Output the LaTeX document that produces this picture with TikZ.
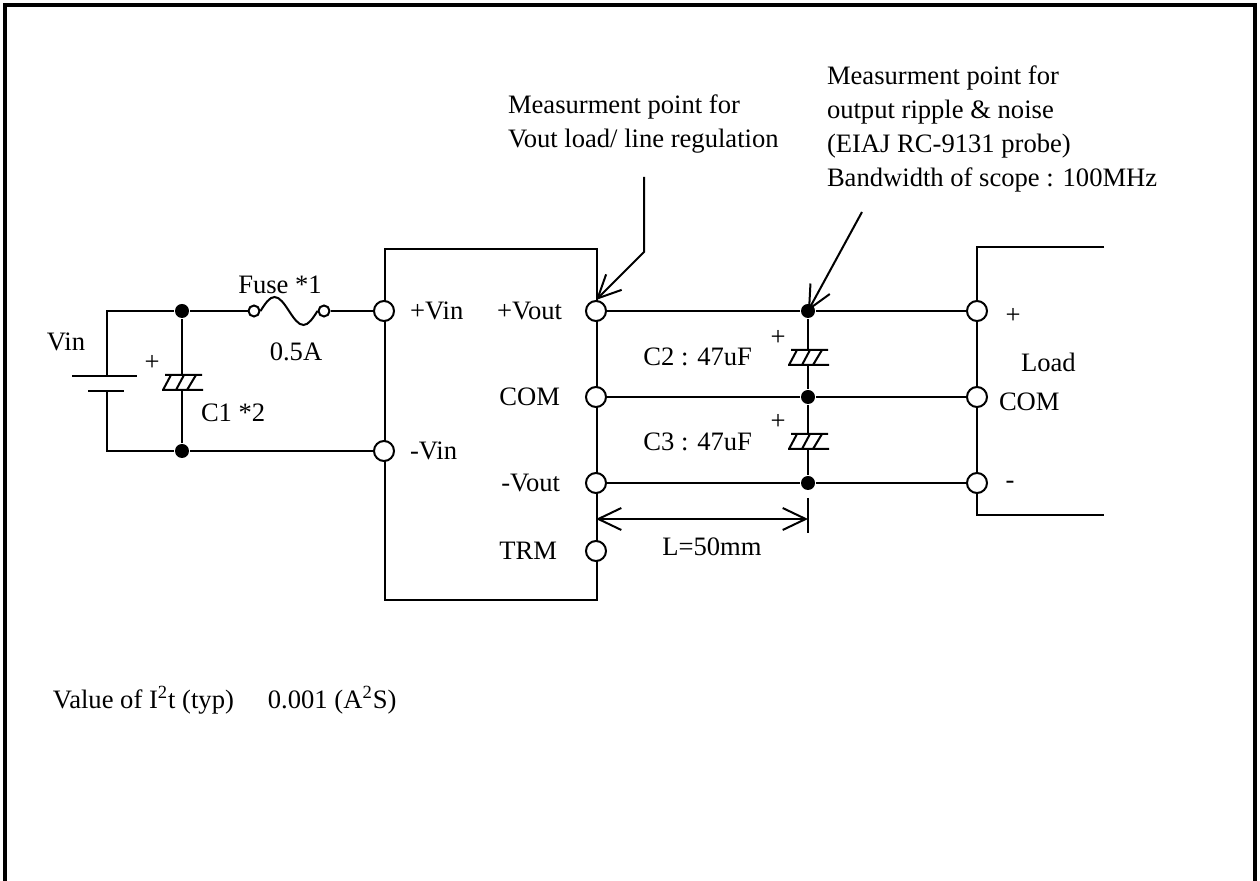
\documentclass[tikz,border=0pt]{standalone}
\usepackage{fontspec}
\setmainfont{Liberation Serif}
\usetikzlibrary{arrows.meta}

\begin{document}
\begin{tikzpicture}
                        [x=0.5pt,y=-0.5pt,line width=1pt,
                        >={Straight Barb[length=11.5pt,width=11pt]},
                        every node/.style = {font=\fontsize{13.3}{17}\selectfont},
                        term/.style = {circle,draw,fill=white,
                                    inner sep=0pt,minimum size=10pt},
                        fuseend/.style = {circle,draw,fill=white,
                                    inner sep=0pt,minimum size=5.5pt},
                        junc/.style = {circle,fill=black,
                                    inner sep=0pt,minimum size=7pt},
                        lbl/.style = {inner sep=0pt},
                        ecap/.pic = {
                            \draw (-17,-7.5) -- (20,-7.5)
                                  (-20,7.5) -- (21,7.5)
                                  (-19,7.5) -- (-11,-7.5)
                                  (-6,7.5) -- (2,-7.5)
                                  (5,7.5) -- (14,-7.5);
                            \coordinate (-top) at (0,-7.5);
                            \coordinate (-bot) at (0,7.5);}]
                        \useasboundingbox (0,0) rectangle (1260,881);
                        \draw [line width=1.75pt] (5,881) -- (5,5) -- (1255,5) -- (1255,881);
                        % converter module
                        \node[draw,inner sep=0pt,anchor=north west,
                              minimum width=106pt,minimum height=175.5pt] (conv) at (384,248) {};
                        \node[term] (pvin) at (384,311) {};
                        \node[term] (mvin) at (384,451) {};
                        \node[term] (pvout) at (596,311) {};
                        \node[term] (com) at (596,397) {};
                        \node[term] (mvout) at (596,483) {};
                        \node[term] (trm) at (596,551) {};
                        % load
                        \draw (1104,247) -- (977,247) -- (977,515) -- (1104,515);
                        \node[term] (lp) at (977,311) {};
                        \node[term] (lcom) at (977,397) {};
                        \node[term] (lm) at (977,483) {};
                        % junctions
                        \node[junc] (j1) at (182,311) {};
                        \node[junc] (j2) at (182,451) {};
                        \node[junc] (jp) at (808,311) {};
                        \node[junc] (jc) at (808,397) {};
                        \node[junc] (jm) at (808,483) {};
                        % battery
                        \coordinate (bt) at (107,311);
                        \coordinate (bb) at (107,451);
                        \coordinate (bpos) at (107,376);
                        \coordinate (bneg) at (107,391);
                        \draw (72,376) -- (137,376);
                        \draw (88,391) -- (124,391);
                        \draw (j1) -- (bt) -- (bpos);
                        \draw (j2) -- (bb) -- (bneg);
                        % fuse
                        \node[fuseend] (fl) at (254,311) {};
                        \node[fuseend] (fr) at (324,311) {};
                        \draw (j1) -- (fl);
                        \draw (fl.east) sin (274.5,297) cos (289,311) sin (303.5,325) cos (fr.west);
                        \draw (fr) -- (pvin);
                        \draw (j2) -- (mvin);
                        % capacitors
                        \pic (c1) at (182,382.5) {ecap};
                        \pic (c2) at (808,357.5) {ecap};
                        \pic (c3) at (808,441.5) {ecap};
                        \draw (j1) -- (c1-top);
                        \draw (c1-bot) -- (j2);
                        \draw (jp) -- (c2-top);
                        \draw (c2-bot) -- (jc) -- (c3-top);
                        \draw (c3-bot) -- (jm);
                        % output lines
                        \draw (pvout) -- (jp) -- (lp);
                        \draw (com) -- (jc) -- (lcom);
                        \draw (mvout) -- (jm) -- (lm);
                        % dimension
                        \coordinate (dl) at (596,519);
                        \coordinate (dr) at (808,519);
                        \coordinate (de1) at (808,498);
                        \coordinate (de2) at (808,533);
                        \draw (de1) -- (de2);
                        \draw[<->] (dl) -- (dr);
                        % measurement arrows
                        \coordinate (m1) at (644,177);
                        \coordinate (m1k) at (644,252);
                        \draw[->] (m1) -- (m1k) -- (pvout.north);
                        \coordinate (m2) at (862,212);
                        \draw[->] (m2) -- (jp.center);
                        % labels
                        \node[lbl] (tvin) at (66,342) {Vin};
                        \node[lbl] (tfuse) at (280,285) {Fuse *1};
                        \node[lbl] (tamp) at (296,352) {0.5A};
                        \node[lbl] (tc1p) at (152,363) {+};
                        \node[lbl,anchor=west] (tc1) at (200,413) {C1 *2};
                        \node[lbl,anchor=west] (tpvin) at (409,311) {+Vin};
                        \node[lbl,anchor=west] (tmvin) at (409,451) {-Vin};
                        \node[lbl,anchor=east] (tpvout) at (563,311) {+Vout};
                        \node[lbl,anchor=east] (tcom) at (561,397) {COM};
                        \node[lbl,anchor=east] (tmvout) at (561,483) {-Vout};
                        \node[lbl,anchor=east] (ttrm) at (558,551) {TRM};
                        \node[lbl,anchor=east] (tc2) at (753,357) {C2 : 47uF};
                        \node[lbl,anchor=east] (tc3) at (753,442) {C3 : 47uF};
                        \node[lbl] (tc2p) at (778,338) {+};
                        \node[lbl] (tc3p) at (778,422) {+};
                        \node[lbl] (tlp) at (1013,316) {+};
                        \node[lbl,anchor=west] (tload) at (1020,362) {Load};
                        \node[lbl,anchor=west] (tlcom) at (998,402) {COM};
                        \node[lbl] (tlm) at (1010,485) {-};
                        \node[lbl] (tlen) at (712,547) {L=50mm};
                        \node[lbl,anchor=west,align=left] (tm1) at (507,124)
                            {Measurment point for\\Vout load/ line regulation};
                        \node[lbl,anchor=west,align=left] (tm2) at (826,129)
                            {Measurment point for\\output ripple \& noise\\(EIAJ RC-9131 probe)\\Bandwidth of scope : 100MHz};
                        \node[lbl,anchor=west] (ti2t) at (52,700)
                            {Value of I\textsuperscript{2}t (typ)\hspace{17pt}0.001 (A\textsuperscript{2}S)};
                    \end{tikzpicture}
\end{document}
